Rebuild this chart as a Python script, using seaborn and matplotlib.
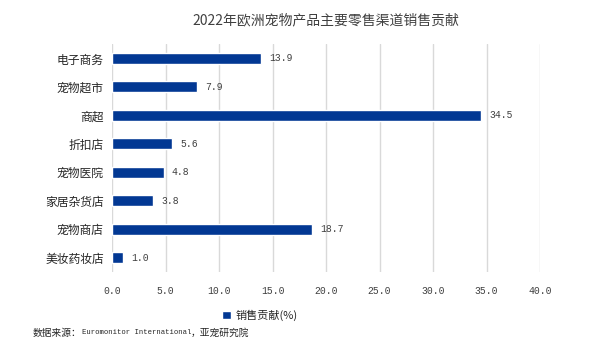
import pandas as pd
import seaborn as sns
import matplotlib.pyplot as plt

# 2022 Europe pet products - retail channel contribution
channels = ['电子商务', '宠物超市', '商超', '折扣店', '宠物医院', '家居杂货店', '宠物商店', '美妆药妆店']
share = [13.9, 7.9, 34.5, 5.6, 4.8, 3.8, 18.7, 1.0]
xticks = [0, 5, 10, 15, 20, 25, 30, 35, 40]

df = pd.DataFrame({'channel': channels, 'value': share})

sns.set_theme(style='white')
plt.rcParams['font.family'] = ['Noto Sans CJK SC', 'DejaVu Sans']
mono = ['Liberation Mono', 'DejaVu Sans']

bar_color = '#023893'

fig = plt.figure(figsize=(6, 3.56), dpi=100)
ax = fig.add_axes([0.187, 0.236, 0.713, 0.64])

sns.barplot(data=df, y='channel', x='value', orient='h', color=bar_color,
            width=0.38, saturation=1, ax=ax, label='销售贡献(%)')

for c in ax.containers:
    ax.bar_label(c, fmt='%.1f', padding=6, fontsize=7, color='#404040', family=mono)

ax.set_xlim(0, 40)
ax.set_xticks(xticks)
ax.set_xticklabels([f'{v:.1f}' for v in xticks], family=mono, fontsize=7, color='#404040')
ax.tick_params(axis='x', length=0, pad=10)
ax.tick_params(axis='y', length=0, pad=6, labelsize=8.5, labelcolor='#262626')
ax.set_xlabel('')
ax.set_ylabel('')
ax.grid(axis='x', color='#d9d9d9', linewidth=1)
ax.set_axisbelow(True)
for s in ax.spines.values():
    s.set_visible(False)

ax.set_title('2022年欧洲宠物产品主要零售渠道销售贡献', fontsize=10, color='#404040', pad=14)

leg = ax.legend(loc='center', bbox_to_anchor=(0.346, -0.19), frameon=False,
                fontsize=8, handlelength=0.8, handleheight=0.8, handletextpad=0.4,
                borderpad=0)

# source line: Chinese parts and the Latin name are set in different sizes
src_y = 1 - 333 / 356
t1 = fig.text(33 / 600, src_y, '数据来源：', fontsize=7, color='#262626', va='center')
fig.canvas.draw()
r = fig.canvas.get_renderer()
x2 = t1.get_window_extent(r).x1 / fig.bbox.width
t2 = fig.text(x2, src_y, 'Euromonitor International', fontsize=5.2,
              family=mono, color='#262626', va='center')
x3 = t2.get_window_extent(r).x1 / fig.bbox.width
fig.text(x3, src_y, '，亚宠研究院', fontsize=7, color='#262626', va='center')

fig.savefig('out.png', dpi=100)
